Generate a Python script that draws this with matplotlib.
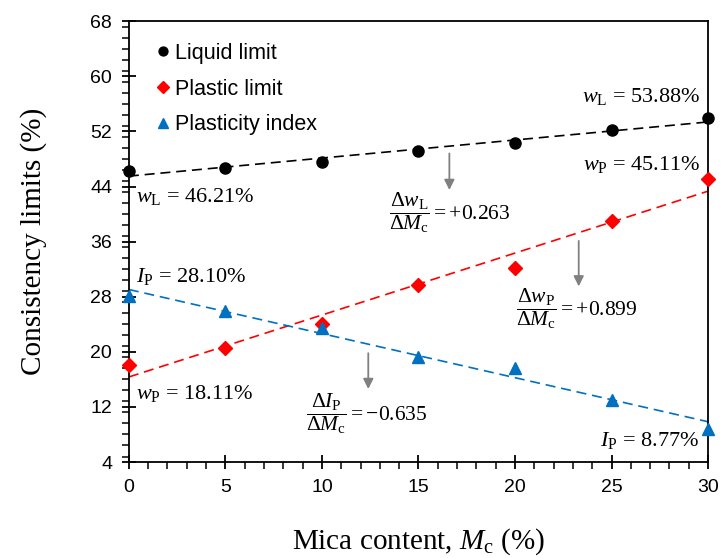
import matplotlib
matplotlib.use('Agg')
import matplotlib.pyplot as plt
import numpy as np
from matplotlib.ticker import MultipleLocator

plt.rcParams['font.family'] = ['Liberation Sans', 'DejaVu Sans']
plt.rcParams['mathtext.fontset'] = 'custom'
plt.rcParams['mathtext.rm'] = 'Liberation Serif'
plt.rcParams['mathtext.it'] = 'Liberation Serif:italic'
plt.rcParams['mathtext.bf'] = 'Liberation Serif:bold'

# data
mica = [0, 5, 10, 15, 20, 25, 30]
liquid_limit = [46.21, 46.7, 47.6, 49.2, 50.3, 52.2, 53.88]
plastic_limit = [18.11, 20.6, 24.1, 29.75, 32.2, 39.0, 45.11]
plasticity_index = [28.10, 25.95, 23.4, 19.2, 17.7, 13.0, 8.77]

serif = 'Liberation Serif'

fig = plt.figure(figsize=(7.24, 5.58), dpi=100)
ax = fig.add_axes([0.178, 0.172, 0.800, 0.790])

x = np.array(mica)
xx = np.array([0, 30])
series = [
    (liquid_limit, 'k', 'o', 8, 'Liquid limit'),
    (plastic_limit, '#ff0000', 'D', 7.5, 'Plastic limit'),
    (plasticity_index, '#0070c0', '^', 9, 'Plasticity index'),
]
for vals, col, mk, ms, lab in series:
    p = np.polyfit(x, vals, 1)  # linear trendline
    ax.plot(xx, np.polyval(p, xx), ls=(0, (6, 3.5)), color=col, lw=1.2, zorder=2)
    ax.plot(x, vals, ls='none', marker=mk, ms=ms, color=col, label=lab,
            zorder=3, clip_on=False)

ax.set_xlim(0, 30)
ax.set_ylim(4, 68)
ax.set_xticks(range(0, 31, 5))
ax.set_yticks(range(4, 69, 8))
ax.xaxis.set_minor_locator(MultipleLocator(1))
ax.yaxis.set_minor_locator(MultipleLocator(1.6))
ax.tick_params(which='major', direction='inout', length=10, width=1.3,
               labelsize=14, pad=7)
ax.tick_params(which='minor', direction='out', length=5, width=1.1)
for s in ax.spines.values():
    s.set_linewidth(1.3)

ax.set_xlabel(r'Mica content, $M_{\mathrm{c}}$ (%)', family=serif,
              fontsize=21, labelpad=22)
ax.set_ylabel('Consistency limits (%)', family=serif, fontsize=21, labelpad=31)

leg = ax.legend(loc='upper left', frameon=False, fontsize=15.5,
                handletextpad=0.0, labelspacing=0.68, borderaxespad=0.3,
                handlelength=1.1, bbox_to_anchor=(0.012, 0.985),
                markerscale=0.8)

fs = 16
ax.text(0.35, 42.6, r'$w_{\mathrm{L}}$ = 46.21%', family=serif, fontsize=fs,
        va='center', ha='left')
ax.text(29.6, 57.0, r'$w_{\mathrm{L}}$ = 53.88%', family=serif, fontsize=fs,
        va='center', ha='right')
ax.text(29.6, 47.2, r'$w_{\mathrm{P}}$ = 45.11%', family=serif, fontsize=fs,
        va='center', ha='right')
ax.text(0.35, 31.0, r'$I_{\mathrm{P}}$ = 28.10%', family=serif, fontsize=fs,
        va='center', ha='left')
ax.text(0.35, 13.9, r'$w_{\mathrm{P}}$ = 18.11%', family=serif, fontsize=fs,
        va='center', ha='left')
ax.text(29.55, 7.1, r'$I_{\mathrm{P}}$ = 8.77%', family=serif, fontsize=fs,
        va='center', ha='right')

ffs = 15.5
ax.text(13.45, 40.2, r'$\dfrac{\Delta w_{\mathrm{L}}}{\Delta M_{\mathrm{c}}} = +0.263$',
        fontsize=ffs, va='center', ha='left')
ax.text(20.05, 26.3, r'$\dfrac{\Delta w_{\mathrm{P}}}{\Delta M_{\mathrm{c}}} = +0.899$',
        fontsize=ffs, va='center', ha='left')
ax.text(9.2, 11.0, r'$\dfrac{\Delta I_{\mathrm{P}}}{\Delta M_{\mathrm{c}}} = -0.635$',
        fontsize=ffs, va='center', ha='left')

arrows = [(16.6, 48.8, 43.5), (23.3, 36.1, 29.5), (12.4, 19.8, 14.6)]
for ax_x, y0, y1 in arrows:
    ax.annotate('', xy=(ax_x, y1), xytext=(ax_x, y0),
                arrowprops=dict(arrowstyle='-|>', color='#808080', lw=1.3,
                                mutation_scale=15, shrinkA=0, shrinkB=0))

fig.savefig('out.png', dpi=100)
